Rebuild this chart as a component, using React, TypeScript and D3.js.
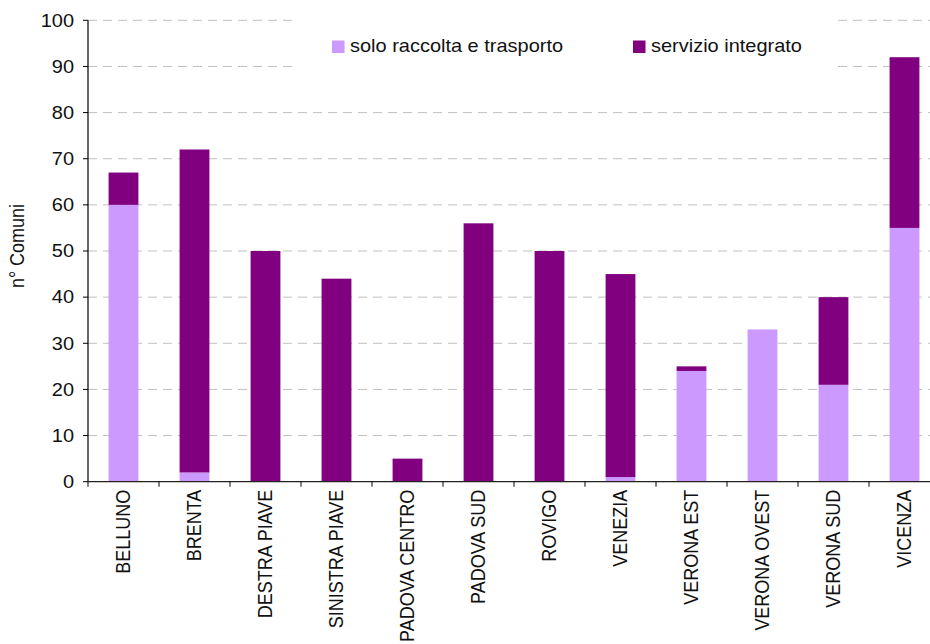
import React from "react";
import * as d3 from "d3";

const categories = [
  "BELLUNO", "BRENTA", "DESTRA PIAVE", "SINISTRA PIAVE", "PADOVA CENTRO", "PADOVA SUD",
  "ROVIGO", "VENEZIA", "VERONA EST", "VERONA OVEST", "VERONA SUD", "VICENZA",
];
const soloRaccolta = [60, 2, 0, 0, 0, 0, 0, 1, 24, 33, 21, 55];
const servizioIntegrato = [7, 70, 50, 44, 5, 56, 50, 44, 1, 0, 19, 37];
const seriesNames = ["solo raccolta e trasporto", "servizio integrato"];
const yTicks = [0, 10, 20, 30, 40, 50, 60, 70, 80, 90, 100];

const W = 930;
const H = 644;
const colors = ["#CC99FF", "#800080"];
const FONT = "Liberation Sans, Arial, sans-serif";
const SX = 1.11;

export default function App() {
  const left = 88;
  const top = 20.3;
  const bottom = 481.7;
  const step = 71;
  const x = d3.scaleBand<string>().domain(categories).range([left, left + step * categories.length]).paddingInner(0.58).paddingOuter(0.29);
  const y = d3.scaleLinear().domain([0, 100]).range([bottom, top]);

  const table = categories.map((c, i) => ({ cat: c, solo: soloRaccolta[i], integ: servizioIntegrato[i] }));
  const stack = d3.stack<any>().keys(["solo", "integ"])(table);

  const boundaries = d3.range(categories.length + 1).map((i) => left + i * step);

  return (
    <svg width={W} height={H} style={{ position: "absolute", left: 0, top: 0, background: "#fff" }} fontFamily={FONT}>
      <rect x={0} y={0} width={W} height={H} fill="#fff" />
      {/* gridlines */}
      {yTicks.filter((t) => t > 0).map((t) => (
        <line key={t} x1={left} x2={W} y1={y(t)} y2={y(t)} stroke="#c0c0c0" strokeWidth={1} strokeDasharray="9,6" />
      ))}
      {/* bars */}
      {stack.map((s, si) => (
        <g key={si} fill={colors[si]}>
          {s.map((d, i) => (d[1] - d[0] > 0 ? (
            <rect key={i} x={x(categories[i])} width={x.bandwidth()} y={y(d[1])} height={y(d[0]) - y(d[1])} />
          ) : null))}
        </g>
      ))}
      {/* legend box */}
      <rect x={297} y={8} width={535} height={72} fill="#fff" />
      <rect x={332} y={40.5} width={12.5} height={12.5} fill={colors[0]} />
      <g transform={`translate(350,52) scale(${SX},1)`}>
        <text x={0} y={0} fontSize={18} fill="#111">{seriesNames[0]}</text>
      </g>
      <rect x={633} y={40.5} width={12.5} height={12.5} fill={colors[1]} />
      <g transform={`translate(651,52) scale(${SX},1)`}>
        <text x={0} y={0} fontSize={18} fill="#111">{seriesNames[1]}</text>
      </g>
      {/* y axis */}
      <line x1={left} x2={left} y1={top} y2={bottom} stroke="#000" strokeWidth={1.2} />
      {yTicks.map((t) => (
        <g key={t}>
          <line x1={left - 5} x2={left} y1={y(t)} y2={y(t)} stroke="#000" />
          <g transform={`translate(${left - 14},${y(t)}) scale(${SX},1)`}>
            <text x={0} y={0} dy="0.35em" textAnchor="end" fontSize={18} fill="#111">{t}</text>
          </g>
        </g>
      ))}
      {/* x axis */}
      <line x1={left} x2={W} y1={bottom} y2={bottom} stroke="#222" strokeWidth={1.2} />
      {boundaries.map((b, i) => (
        <line key={i} x1={b} x2={b} y1={bottom} y2={bottom + 5} stroke="#000" />
      ))}
      {categories.map((c) => {
        const cx = (x(c) as number) + x.bandwidth() / 2;
        return (
          <text key={c} transform={`translate(${cx},${bottom + 8}) scale(${SX},1) rotate(-90)`} textAnchor="end" dy="0.35em" fontSize={18} fill="#111">{c}</text>
        );
      })}
      <text transform={`translate(17,246) scale(${SX},1) rotate(-90)`} textAnchor="middle" dy="0.35em" fontSize={18} fill="#111">n° Comuni</text>
    </svg>
  );
}
